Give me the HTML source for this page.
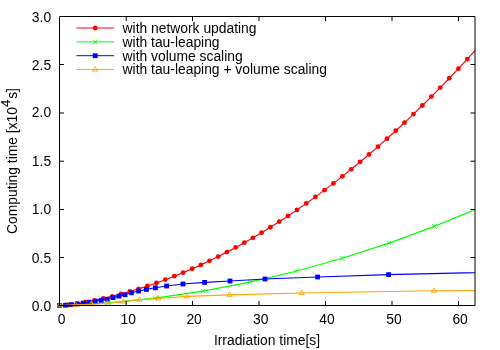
<!DOCTYPE html>
<html><head><meta charset="utf-8"><title>plot</title>
<style>html,body{margin:0;padding:0;background:#fff;}svg{display:block;will-change:transform;}text{font-family:"Liberation Sans",sans-serif;fill:#000;}</style></head><body>
<svg width="500" height="350" viewBox="0 0 500 350">
<rect x="0" y="0" width="500" height="350" fill="#fff"/>
<defs><clipPath id="c"><rect x="59.5" y="16.5" width="415.5" height="289.0"/></clipPath></defs>
<polyline points="59.50,305.50 68.20,305.01 76.80,303.67 85.60,302.11 94.50,300.34 103.30,298.42 112.20,296.29 121.00,293.99 129.90,291.49 138.60,288.86 147.40,286.02 156.40,282.93 165.30,279.69 174.30,276.22 183.10,272.64 192.20,268.75 200.80,264.89 209.50,260.81 218.20,256.55 226.90,252.12 235.70,247.45 244.30,242.71 252.90,237.80 261.60,232.65 270.40,227.27 279.20,221.70 288.00,215.95 297.00,209.88 306.20,203.48 315.40,196.88 324.50,190.15 333.40,183.39 342.40,176.36 351.20,169.30 360.10,161.97 369.00,154.46 378.00,146.68 387.00,138.70 395.80,130.72 404.50,122.65 413.50,114.11 422.40,105.48 431.40,96.57 440.30,87.56 449.30,78.27 458.40,68.68 467.30,59.11 476.20,49.35" fill="none" stroke="#ff0000" stroke-width="1.15" clip-path="url(#c)"/>
<circle cx="59.50" cy="305.50" r="2.4" fill="#ff0000"/>
<circle cx="68.20" cy="305.01" r="2.4" fill="#ff0000"/>
<circle cx="76.80" cy="303.67" r="2.4" fill="#ff0000"/>
<circle cx="85.60" cy="302.11" r="2.4" fill="#ff0000"/>
<circle cx="94.50" cy="300.34" r="2.4" fill="#ff0000"/>
<circle cx="103.30" cy="298.42" r="2.4" fill="#ff0000"/>
<circle cx="112.20" cy="296.29" r="2.4" fill="#ff0000"/>
<circle cx="121.00" cy="293.99" r="2.4" fill="#ff0000"/>
<circle cx="129.90" cy="291.49" r="2.4" fill="#ff0000"/>
<circle cx="138.60" cy="288.86" r="2.4" fill="#ff0000"/>
<circle cx="147.40" cy="286.02" r="2.4" fill="#ff0000"/>
<circle cx="156.40" cy="282.93" r="2.4" fill="#ff0000"/>
<circle cx="165.30" cy="279.69" r="2.4" fill="#ff0000"/>
<circle cx="174.30" cy="276.22" r="2.4" fill="#ff0000"/>
<circle cx="183.10" cy="272.64" r="2.4" fill="#ff0000"/>
<circle cx="192.20" cy="268.75" r="2.4" fill="#ff0000"/>
<circle cx="200.80" cy="264.89" r="2.4" fill="#ff0000"/>
<circle cx="209.50" cy="260.81" r="2.4" fill="#ff0000"/>
<circle cx="218.20" cy="256.55" r="2.4" fill="#ff0000"/>
<circle cx="226.90" cy="252.12" r="2.4" fill="#ff0000"/>
<circle cx="235.70" cy="247.45" r="2.4" fill="#ff0000"/>
<circle cx="244.30" cy="242.71" r="2.4" fill="#ff0000"/>
<circle cx="252.90" cy="237.80" r="2.4" fill="#ff0000"/>
<circle cx="261.60" cy="232.65" r="2.4" fill="#ff0000"/>
<circle cx="270.40" cy="227.27" r="2.4" fill="#ff0000"/>
<circle cx="279.20" cy="221.70" r="2.4" fill="#ff0000"/>
<circle cx="288.00" cy="215.95" r="2.4" fill="#ff0000"/>
<circle cx="297.00" cy="209.88" r="2.4" fill="#ff0000"/>
<circle cx="306.20" cy="203.48" r="2.4" fill="#ff0000"/>
<circle cx="315.40" cy="196.88" r="2.4" fill="#ff0000"/>
<circle cx="324.50" cy="190.15" r="2.4" fill="#ff0000"/>
<circle cx="333.40" cy="183.39" r="2.4" fill="#ff0000"/>
<circle cx="342.40" cy="176.36" r="2.4" fill="#ff0000"/>
<circle cx="351.20" cy="169.30" r="2.4" fill="#ff0000"/>
<circle cx="360.10" cy="161.97" r="2.4" fill="#ff0000"/>
<circle cx="369.00" cy="154.46" r="2.4" fill="#ff0000"/>
<circle cx="378.00" cy="146.68" r="2.4" fill="#ff0000"/>
<circle cx="387.00" cy="138.70" r="2.4" fill="#ff0000"/>
<circle cx="395.80" cy="130.72" r="2.4" fill="#ff0000"/>
<circle cx="404.50" cy="122.65" r="2.4" fill="#ff0000"/>
<circle cx="413.50" cy="114.11" r="2.4" fill="#ff0000"/>
<circle cx="422.40" cy="105.48" r="2.4" fill="#ff0000"/>
<circle cx="431.40" cy="96.57" r="2.4" fill="#ff0000"/>
<circle cx="440.30" cy="87.56" r="2.4" fill="#ff0000"/>
<circle cx="449.30" cy="78.27" r="2.4" fill="#ff0000"/>
<circle cx="458.40" cy="68.68" r="2.4" fill="#ff0000"/>
<circle cx="467.30" cy="59.11" r="2.4" fill="#ff0000"/>
<polyline points="59.50,305.70 62.00,305.61 108.50,302.93 155.00,298.19 203.00,291.13 249.80,282.15 296.00,271.23 342.30,258.25 389.00,243.09 434.40,226.36 481.00,207.15" fill="none" stroke="#00ff00" stroke-width="1.15" clip-path="url(#c)"/>
<path d="M57.35,303.55L61.65,307.85M57.35,307.85L61.65,303.55" stroke="#00ff00" stroke-width="0.9" fill="none"/>
<path d="M59.85,303.46L64.15,307.76M59.85,307.76L64.15,303.46" stroke="#00ff00" stroke-width="0.9" fill="none"/>
<path d="M106.35,300.78L110.65,305.08M106.35,305.08L110.65,300.78" stroke="#00ff00" stroke-width="0.9" fill="none"/>
<path d="M152.85,296.04L157.15,300.34M152.85,300.34L157.15,296.04" stroke="#00ff00" stroke-width="0.9" fill="none"/>
<path d="M200.85,288.98L205.15,293.28M200.85,293.28L205.15,288.98" stroke="#00ff00" stroke-width="0.9" fill="none"/>
<path d="M247.65,280.00L251.95,284.30M247.65,284.30L251.95,280.00" stroke="#00ff00" stroke-width="0.9" fill="none"/>
<path d="M293.85,269.08L298.15,273.38M293.85,273.38L298.15,269.08" stroke="#00ff00" stroke-width="0.9" fill="none"/>
<path d="M340.15,256.10L344.45,260.40M340.15,260.40L344.45,256.10" stroke="#00ff00" stroke-width="0.9" fill="none"/>
<path d="M386.85,240.94L391.15,245.24M386.85,245.24L391.15,240.94" stroke="#00ff00" stroke-width="0.9" fill="none"/>
<path d="M432.25,224.21L436.55,228.51M432.25,228.51L436.55,224.21" stroke="#00ff00" stroke-width="0.9" fill="none"/>
<polyline points="59.50,305.50 65.50,305.20 71.40,304.60 77.30,303.90 83.20,303.10 89.20,302.20 95.30,301.20 101.20,300.30 107.20,299.20 113.10,297.60 119.00,296.10 125.00,294.70 131.40,292.80 138.60,291.00 146.40,289.40 155.40,287.80 166.60,286.00 183.00,284.00 204.60,282.40 230.00,281.00 265.00,279.00 317.60,277.00 388.60,274.60 535.00,271.20" fill="none" stroke="#0000ff" stroke-width="1.15" clip-path="url(#c)"/>
<rect x="57.10" y="303.10" width="4.8" height="4.8" fill="#0000ff"/>
<rect x="63.10" y="302.80" width="4.8" height="4.8" fill="#0000ff"/>
<rect x="69.00" y="302.20" width="4.8" height="4.8" fill="#0000ff"/>
<rect x="74.90" y="301.50" width="4.8" height="4.8" fill="#0000ff"/>
<rect x="80.80" y="300.70" width="4.8" height="4.8" fill="#0000ff"/>
<rect x="86.80" y="299.80" width="4.8" height="4.8" fill="#0000ff"/>
<rect x="92.90" y="298.80" width="4.8" height="4.8" fill="#0000ff"/>
<rect x="98.80" y="297.90" width="4.8" height="4.8" fill="#0000ff"/>
<rect x="104.80" y="296.80" width="4.8" height="4.8" fill="#0000ff"/>
<rect x="110.70" y="295.20" width="4.8" height="4.8" fill="#0000ff"/>
<rect x="116.60" y="293.70" width="4.8" height="4.8" fill="#0000ff"/>
<rect x="122.60" y="292.30" width="4.8" height="4.8" fill="#0000ff"/>
<rect x="129.00" y="290.40" width="4.8" height="4.8" fill="#0000ff"/>
<rect x="136.20" y="288.60" width="4.8" height="4.8" fill="#0000ff"/>
<rect x="144.00" y="287.00" width="4.8" height="4.8" fill="#0000ff"/>
<rect x="153.00" y="285.40" width="4.8" height="4.8" fill="#0000ff"/>
<rect x="164.20" y="283.60" width="4.8" height="4.8" fill="#0000ff"/>
<rect x="180.60" y="281.60" width="4.8" height="4.8" fill="#0000ff"/>
<rect x="202.20" y="280.00" width="4.8" height="4.8" fill="#0000ff"/>
<rect x="227.60" y="278.60" width="4.8" height="4.8" fill="#0000ff"/>
<rect x="262.60" y="276.60" width="4.8" height="4.8" fill="#0000ff"/>
<rect x="315.20" y="274.60" width="4.8" height="4.8" fill="#0000ff"/>
<rect x="386.20" y="272.20" width="4.8" height="4.8" fill="#0000ff"/>
<polyline points="59.50,305.50 75.50,304.90 91.20,304.30 107.30,303.50 123.40,301.70 139.40,299.80 158.00,298.50 187.00,296.40 229.60,294.90 301.60,293.00 434.00,290.80 675.00,289.80" fill="none" stroke="#ffa500" stroke-width="1.15" clip-path="url(#c)"/>
<path d="M59.50,302.50L56.80,307.00L62.20,307.00Z" stroke="#ffa500" stroke-width="0.85" fill="none"/>
<path d="M75.50,301.90L72.80,306.40L78.20,306.40Z" stroke="#ffa500" stroke-width="0.85" fill="none"/>
<path d="M91.20,301.30L88.50,305.80L93.90,305.80Z" stroke="#ffa500" stroke-width="0.85" fill="none"/>
<path d="M107.30,300.50L104.60,305.00L110.00,305.00Z" stroke="#ffa500" stroke-width="0.85" fill="none"/>
<path d="M123.40,298.70L120.70,303.20L126.10,303.20Z" stroke="#ffa500" stroke-width="0.85" fill="none"/>
<path d="M139.40,296.80L136.70,301.30L142.10,301.30Z" stroke="#ffa500" stroke-width="0.85" fill="none"/>
<path d="M158.00,295.50L155.30,300.00L160.70,300.00Z" stroke="#ffa500" stroke-width="0.85" fill="none"/>
<path d="M187.00,293.40L184.30,297.90L189.70,297.90Z" stroke="#ffa500" stroke-width="0.85" fill="none"/>
<path d="M229.60,291.90L226.90,296.40L232.30,296.40Z" stroke="#ffa500" stroke-width="0.85" fill="none"/>
<path d="M301.60,290.00L298.90,294.50L304.30,294.50Z" stroke="#ffa500" stroke-width="0.85" fill="none"/>
<path d="M434.00,287.80L431.30,292.30L436.70,292.30Z" stroke="#ffa500" stroke-width="0.85" fill="none"/>
<path d="M59.5,16.5L475.0,16.5L475.0,305.5L59.5,305.5Z" fill="none" stroke="#000" stroke-width="1"/>
<path d="M126.2,305.5V301.0M126.2,16.5V21.0M192.5,305.5V301.0M192.5,16.5V21.0M259.0,305.5V301.0M259.0,16.5V21.0M325.5,305.5V301.0M325.5,16.5V21.0M392.0,305.5V301.0M392.0,16.5V21.0M458.5,305.5V301.0M458.5,16.5V21.0M59.5,257.5H64.0M475.0,257.5H470.5M59.5,209.5H64.0M475.0,209.5H470.5M59.5,161.2H64.0M475.0,161.2H470.5M59.5,113.0H64.0M475.0,113.0H470.5M59.5,64.5H64.0M475.0,64.5H470.5" fill="none" stroke="#000" stroke-width="1"/>
<text x="61.60" y="324.2" font-size="13.85" text-anchor="middle">0</text>
<text x="128.30" y="324.2" font-size="13.85" text-anchor="middle">10</text>
<text x="194.10" y="324.2" font-size="13.85" text-anchor="middle">20</text>
<text x="260.70" y="324.2" font-size="13.85" text-anchor="middle">30</text>
<text x="327.05" y="324.2" font-size="13.85" text-anchor="middle">40</text>
<text x="393.95" y="324.2" font-size="13.85" text-anchor="middle">50</text>
<text x="460.10" y="324.2" font-size="13.85" text-anchor="middle">60</text>
<text x="51.1" y="310.60" font-size="13.85" text-anchor="end">0.0</text>
<text x="51.1" y="262.60" font-size="13.85" text-anchor="end">0.5</text>
<text x="51.1" y="214.20" font-size="13.85" text-anchor="end">1.0</text>
<text x="51.1" y="165.60" font-size="13.85" text-anchor="end">1.5</text>
<text x="51.1" y="117.40" font-size="13.85" text-anchor="end">2.0</text>
<text x="51.1" y="69.50" font-size="13.85" text-anchor="end">2.5</text>
<text x="51.1" y="22.00" font-size="13.85" text-anchor="end">3.0</text>
<text x="267.0" y="345.05" font-size="13.85" text-anchor="middle">Irradiation time[s]</text>
<g transform="translate(16.6,234) rotate(-90)"><text x="0" y="0" font-size="13.85">Computing time [x10</text><text x="126.9" y="-6.2" font-size="12.3" textLength="7.4" lengthAdjust="spacingAndGlyphs">4</text><text x="135.2" y="0" font-size="13.85">s]</text></g>
<path d="M76.4,28H114" stroke="#ff0000" stroke-width="1" fill="none"/>
<circle cx="95.20" cy="28.00" r="2.4" fill="#ff0000"/>
<text x="122.6" y="32.80" font-size="13.85">with network updating</text>
<path d="M76.4,41.85H114" stroke="#00ff00" stroke-width="1" fill="none"/>
<path d="M93.05,39.70L97.35,44.00M93.05,44.00L97.35,39.70" stroke="#00ff00" stroke-width="0.9" fill="none"/>
<text x="122.6" y="46.65" font-size="13.85">with tau-leaping</text>
<path d="M76.4,55.7H114" stroke="#0000ff" stroke-width="1" fill="none"/>
<rect x="92.80" y="53.30" width="4.8" height="4.8" fill="#0000ff"/>
<text x="122.6" y="60.50" font-size="13.85">with volume scaling</text>
<path d="M76.4,69.55H114" stroke="#ffa500" stroke-width="1" fill="none"/>
<path d="M95.20,66.55L92.50,71.05L97.90,71.05Z" stroke="#ffa500" stroke-width="0.85" fill="none"/>
<text x="122.6" y="74.35" font-size="13.85">with tau-leaping + volume scaling</text>
</svg></body></html>
